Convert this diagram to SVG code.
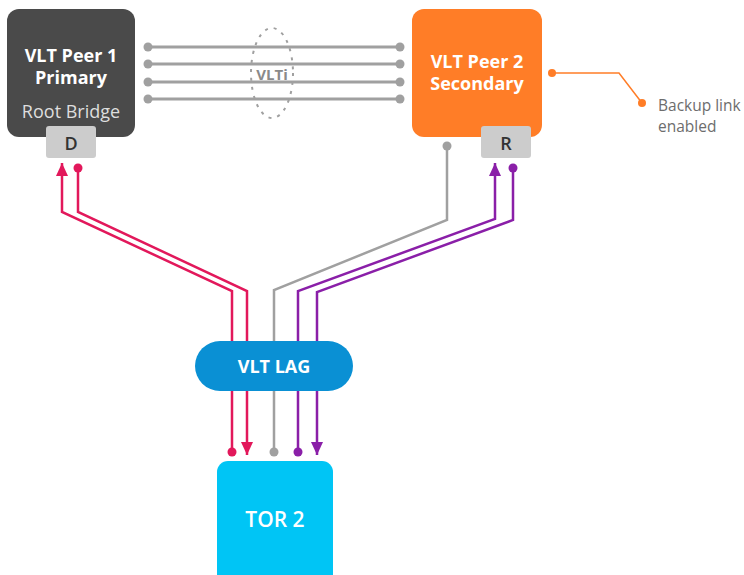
<svg xmlns="http://www.w3.org/2000/svg" width="744" height="575" viewBox="0 0 744 575">
<defs>
<style>
.t{font-family:"Open Sans","Liberation Sans",sans-serif;text-anchor:middle}
.w{fill:#ffffff;font-weight:bold;font-size:18px}
.tab{fill:#cccccc}
.tabt{fill:#333333;font-weight:600;font-size:18px}
.ln{fill:none;stroke-width:2.5;stroke-linejoin:miter}
.pink{stroke:#e2185b}
.purple{stroke:#8a1fa8}
.gray{stroke:#a0a0a0}
.vlti{stroke:#a0a0a0;stroke-width:3}
.note{font-family:"Open Sans","Liberation Sans",sans-serif;font-size:15.5px;fill:#6d6d6d}
</style>
<marker id="ap" viewBox="0 0 13 12" refX="13" refY="6" markerWidth="13" markerHeight="12" markerUnits="userSpaceOnUse" orient="auto"><path d="M0,0 L13,6 L0,12 z" fill="#e2185b"/></marker>
<marker id="au" viewBox="0 0 13 12" refX="13" refY="6" markerWidth="13" markerHeight="12" markerUnits="userSpaceOnUse" orient="auto"><path d="M0,0 L13,6 L0,12 z" fill="#8a1fa8"/></marker>
</defs>
<rect width="744" height="575" fill="#ffffff"/>
<g id="connectors">
<g id="vlti-links">
<line class="vlti" x1="148" y1="47" x2="400" y2="47"/>
<line class="vlti" x1="148" y1="64" x2="400" y2="64"/>
<line class="vlti" x1="148" y1="82" x2="400" y2="82"/>
<line class="vlti" x1="148" y1="99" x2="400" y2="99"/>
<g fill="#a0a0a0">
<circle cx="148" cy="47" r="4.5"/><circle cx="148" cy="64" r="4.5"/><circle cx="148" cy="82" r="4.5"/><circle cx="148" cy="99" r="4.5"/>
<circle cx="400" cy="47" r="4.5"/><circle cx="400" cy="64" r="4.5"/><circle cx="400" cy="82" r="4.5"/><circle cx="400" cy="99" r="4.5"/>
</g>
<ellipse cx="272" cy="73" rx="21" ry="45" fill="none" stroke="#a0a0a0" stroke-width="2" stroke-dasharray="3 6"/>
<text class="t" x="272" y="80" fill="#8a8a8a" font-weight="bold" font-size="15">VLTi</text>
</g>
<g id="backup-link">
<polyline points="552,73 619,73 642,103" fill="none" stroke="#ff7d27" stroke-width="1.5"/>
<circle cx="552" cy="73" r="4" fill="#ff7d27"/>
<circle cx="642" cy="103" r="4" fill="#ff7d27"/>
<text class="note" x="658" y="111">Backup link</text>
<text class="note" x="658" y="132">enabled</text>
</g>
<path class="ln pink" d="M232,452 V291 L62,212 V163" marker-end="url(#ap)"/>
<path class="ln pink" d="M78,168 V212 L247,291 V455" marker-end="url(#ap)"/>
<path class="ln gray" d="M447,146 V220 L274,290 V452"/>
<path class="ln purple" d="M298,452 V291 L495,219 V163" marker-end="url(#au)"/>
<path class="ln purple" d="M513,168 V220 L317,292 V455" marker-end="url(#au)"/>
<circle cx="232" cy="452" r="4.5" fill="#e2185b"/>
<circle cx="78" cy="168" r="4.5" fill="#e2185b"/>
<circle cx="447" cy="146" r="4.5" fill="#a0a0a0"/>
<circle cx="274" cy="452" r="4.5" fill="#a0a0a0"/>
<circle cx="298" cy="452" r="4.5" fill="#8a1fa8"/>
<circle cx="513" cy="168" r="4.5" fill="#8a1fa8"/>
</g>
<g id="peer1">
<rect x="7" y="9" width="128" height="128" rx="12" fill="#4a4a4a"/>
<text class="t w" x="71" y="62">VLT Peer 1</text>
<text class="t w" x="71" y="84">Primary</text>
<text class="t" x="71" y="118" fill="#dedede" font-size="18">Root Bridge</text>
<rect class="tab" x="46" y="126" width="50" height="32" rx="3"/>
<text class="t tabt" x="71" y="150">D</text>
</g>
<g id="peer2">
<rect x="412" y="9" width="130" height="128" rx="12" fill="#ff7d27"/>
<text class="t w" x="477" y="68">VLT Peer 2</text>
<text class="t w" x="477" y="90">Secondary</text>
<rect class="tab" x="481" y="126" width="50" height="32" rx="3"/>
<text class="t tabt" x="506" y="150">R</text>
</g>
<g id="vlt-lag">
<rect x="195" y="341" width="158" height="50" rx="25" fill="#0a90d4"/>
<text class="t w" x="274" y="373">VLT LAG</text>
</g>
<g id="tor2">
<rect x="217" y="461" width="116" height="130" rx="11" fill="#00c5f5"/>
<text class="t" x="275" y="527" fill="#ffffff" font-weight="600" font-size="21">TOR 2</text>
</g>
</svg>
